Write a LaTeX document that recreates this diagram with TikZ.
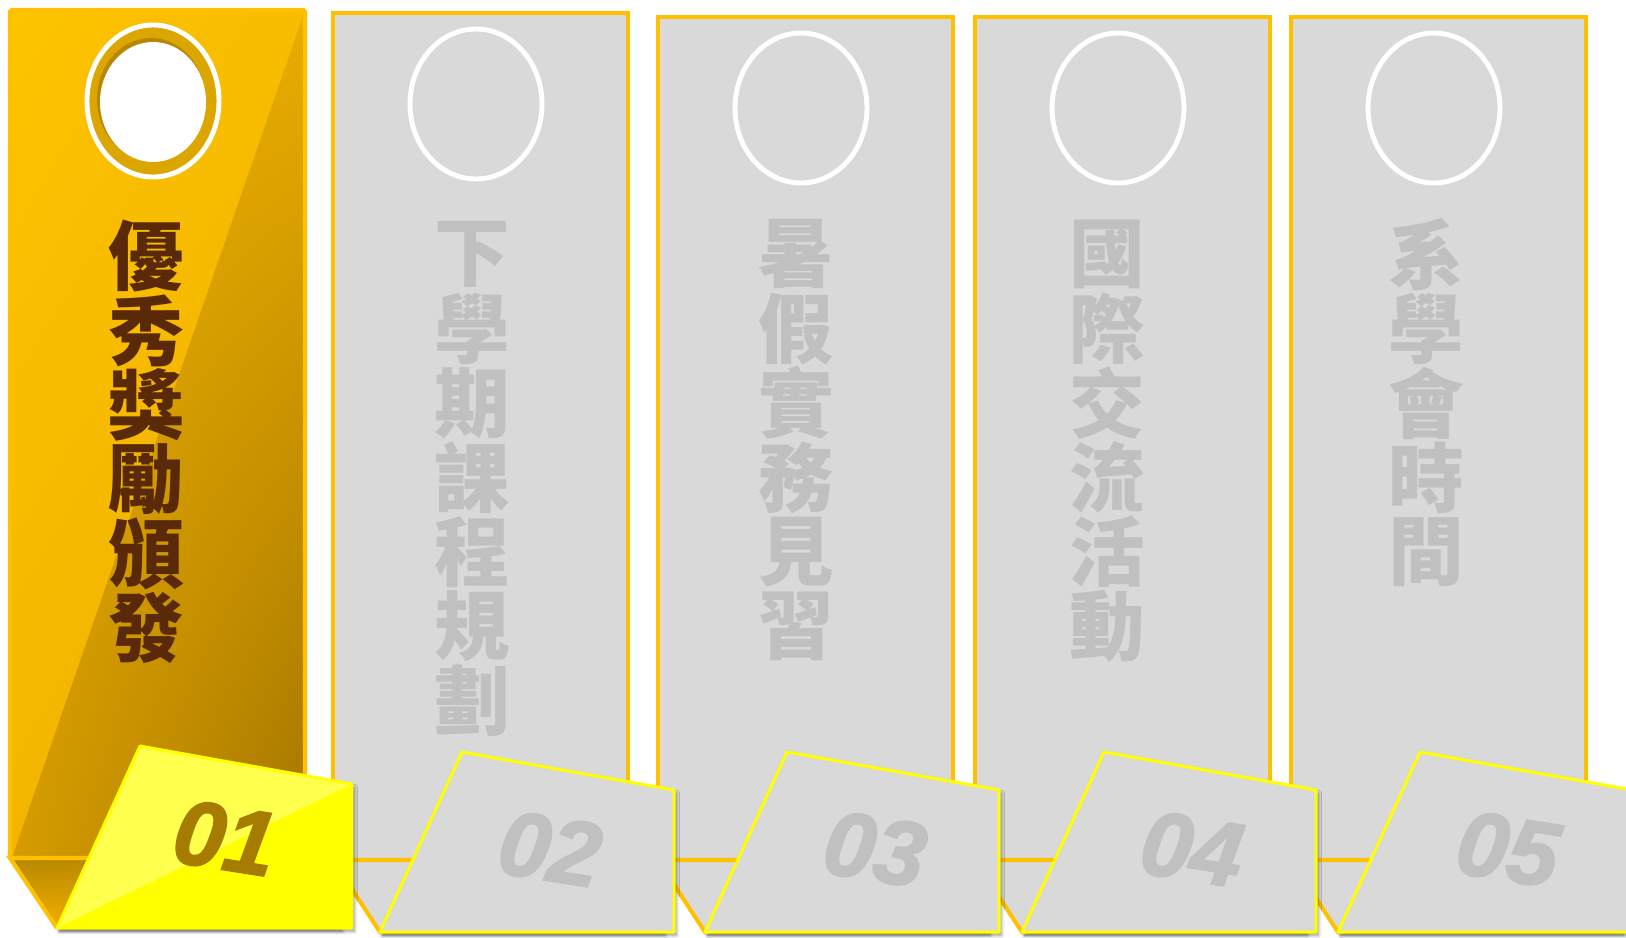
\documentclass[tikz,border=0pt]{standalone}
\usepackage{fontspec}
\newfontfamily\cjk{Noto Sans CJK TC}
\newfontfamily\numfont[BoldItalicFeatures={FakeBold=2}]{Liberation Sans}
\usetikzlibrary{shadings}
\usetikzlibrary{shadows}
\usetikzlibrary{shadows.blur}
\definecolor{cardedge}{HTML}{FFC000}
\definecolor{cardgray}{HTML}{D9D9D9}
\definecolor{graytext}{HTML}{C0C0C0}
\definecolor{browntext}{HTML}{5A2A08}
\definecolor{numgold}{HTML}{A67C00}
\definecolor{tagyellow}{HTML}{FFFF00}
\definecolor{taglight}{HTML}{FFFF4D}
\definecolor{goldA}{HTML}{FDC400}
\definecolor{goldB}{HTML}{F8BC00}
\definecolor{goldC}{HTML}{F4B500}
\definecolor{goldD}{HTML}{ECAC00}
\definecolor{darkA}{HTML}{ECB200}
\definecolor{darkB}{HTML}{E8AC00}
\definecolor{darkC}{HTML}{D69C00}
\definecolor{darkD}{HTML}{A57600}
\definecolor{ringgold}{HTML}{DCA600}
\definecolor{ringshade}{HTML}{B88600}
\definecolor{footdark}{HTML}{B88800}
\definecolor{footlight}{HTML}{F0B000}
\tikzset{
  grayword/.style={text=graytext, font=\cjk\bfseries\fontsize{43}{43}\selectfont, inner sep=0pt},
  brownword/.style={text=browntext, font=\cjk\bfseries\fontsize{43}{43}\selectfont, inner sep=0pt},
  tagnum/.style={font=\numfont\bfseries\itshape\fontsize{52}{52}\selectfont, rotate=-9, inner sep=0pt},
  tagshadow/.style={blur shadow={shadow xshift=1.5pt, shadow yshift=-2pt, shadow blur steps=6, shadow opacity=40}}
}
\begin{document}
\begin{tikzpicture}[x=0.02cm,y=-0.02cm]
\useasboundingbox (0,0) rectangle (1626,937);
\clip (0,0) rectangle (1626,937);
% gray cards
\foreach \xl/\yt in {333/13,658/17,975/17,1291/17}{
    \draw[cardedge, line width=2.3pt, fill=cardgray] (\xl,\yt) rectangle (\xl+295,860);
    \draw[white, line width=2.8pt] (\xl+143,\yt+91) ellipse [x radius=66, y radius=75];
}
% first card, gold
\shade[upper left=goldA, upper right=goldB, lower left=goldC, lower right=goldD]
    (10,10) rectangle (305,860);
\shade[upper left=darkA, upper right=darkB, lower left=darkC, lower right=darkD]
    (303,16) -- (303,858) -- (12,858) -- cycle;
\draw[cardedge, line width=2.3pt, rounded corners=1pt] (10,10) rectangle (305,860);
% ring with the white hole
\fill[ringgold] (153,101) ellipse [x radius=66, y radius=76];
\draw[white, line width=2.8pt] (153,101) ellipse [x radius=66, y radius=76];
\fill[ringshade] (151,99) ellipse [x radius=54, y radius=61];
\fill[white] (153,102) ellipse [x radius=53, y radius=60];
% words
\foreach \ch [count=\k] in {優,秀,獎,勵,頒,發}
    \node[brownword] (w1-\k) at (146,{256+74.5*(\k-1)}) {\ch};
\foreach \ch [count=\k] in {下,學,期,課,程,規,劃}
    \node[grayword] (w2-\k) at (472,{254+74.5*(\k-1)}) {\ch};
\foreach \ch [count=\k] in {暑,假,實,務,見,習}
    \node[grayword] (w3-\k) at (796,{254+74.5*(\k-1)}) {\ch};
\foreach \ch [count=\k] in {國,際,交,流,活,動}
    \node[grayword] (w4-\k) at (1107,{254+74.5*(\k-1)}) {\ch};
\foreach \ch [count=\k] in {系,學,會,時,間}
    \node[grayword] (w5-\k) at (1426,{254+74.5*(\k-1)}) {\ch};
% folded feet
\shade[top color=footdark, bottom color=footlight, tagshadow]
    (10,858) -- (57,928) -- (340,928) -- (305,858) -- cycle;
\draw[cardedge, line width=2.3pt] (305,858) -- (10,858) -- (57,928);
\foreach \xl in {333,658,975,1291}{
    \draw[cardedge, line width=2.3pt, fill=cardgray, tagshadow] (\xl,860) -- (\xl+47,932) -- (\xl+330,932) -- (\xl+295,860) -- cycle;
}
% number tags
\fill[tagyellow, tagshadow] (140,746) -- (352,784) -- (352,928) -- (57,928) -- cycle;
\fill[taglight] (140,746) -- (352,784) -- (57,928) -- cycle;
\draw[tagyellow, line width=1.7pt, line join=round] (140,746) -- (352,784) -- (352,928) -- (57,928) -- cycle;
\node[tagnum, text=numgold] (n1) at (225,838) {01};
\foreach \xl/\nm [count=\i from 2] in {333/02,658/03,975/04,1291/05}{
    \draw[tagyellow, line width=1.7pt, fill=cardgray, line join=round, tagshadow]
        (\xl+129,752) -- (\xl+341,790) -- (\xl+341,932) -- (\xl+47,932) -- cycle;
    \node[tagnum, text=graytext] (n\i) at (\xl+217,849) {\nm};
}
\end{tikzpicture}
\end{document}
